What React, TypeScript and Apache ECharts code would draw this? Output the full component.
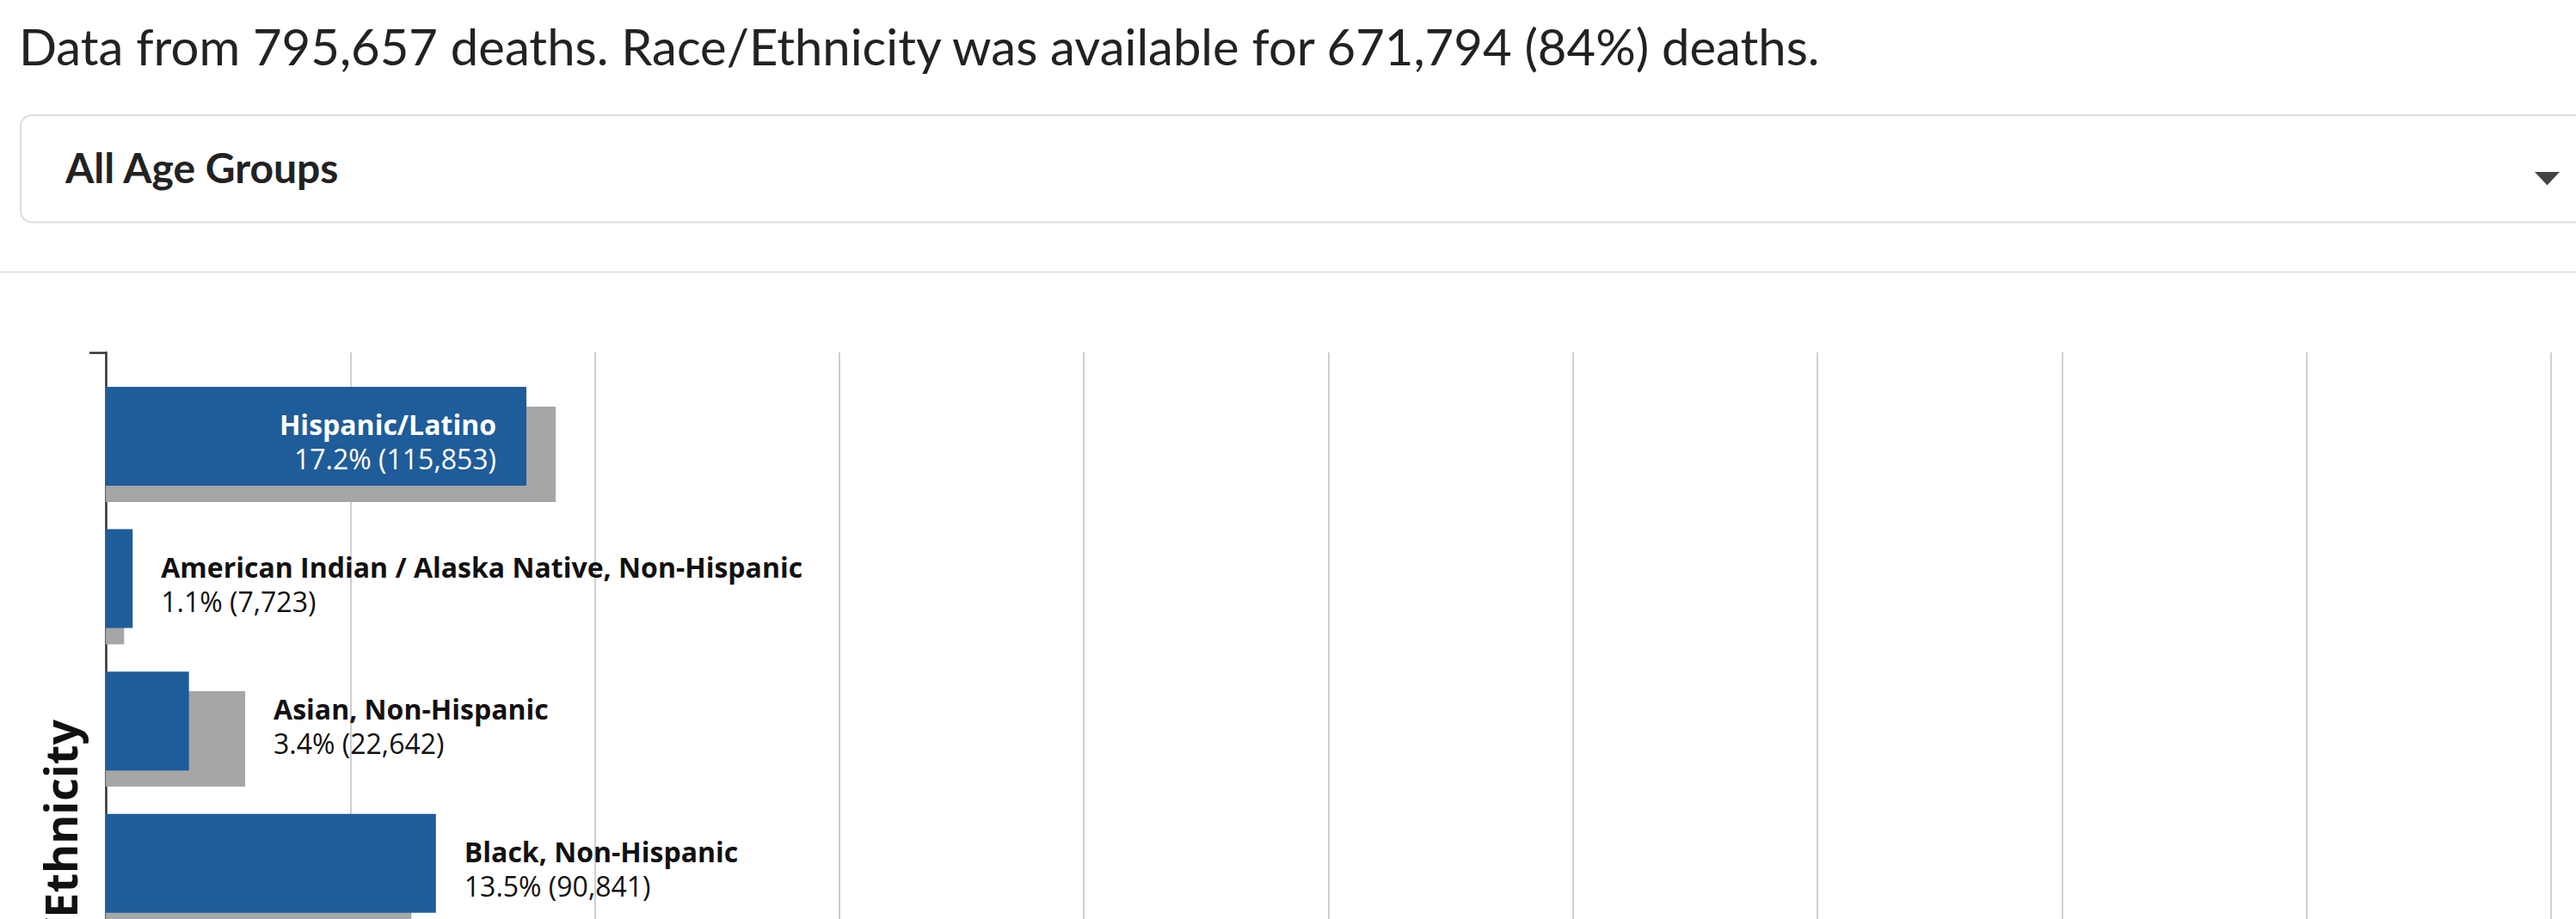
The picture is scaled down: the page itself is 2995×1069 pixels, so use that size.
import React, { useEffect, useRef } from 'react';
import * as echarts from 'echarts';

// ---- data ----
const categories = [
  'Hispanic/Latino',
  'American Indian / Alaska Native, Non-Hispanic',
  'Asian, Non-Hispanic',
  'Black, Non-Hispanic',
];
const deathPct = [17.2, 1.1, 3.4, 13.5];
const deathCount = [115853, 7723, 22642, 90841];
const populationPct = [18.4, 0.75, 5.7, 12.5];
const labelInside = [true, false, false, false];
const xMin = 0;
const xMax = 100;
const xInterval = 10;
const totalDeaths = 795657;
const availableDeaths = 671794;
const availablePct = 84;
const ageGroup = 'All Age Groups';
const axisTitle = 'Race/Ethnicity';

const BLUE = '#1f5c9a';
const GRAY = '#a6a6a6';

const fmt = (n: number) => n.toLocaleString('en-US');

export default function App() {
  const ref = useRef<HTMLDivElement>(null);

  useEffect(() => {
    if (!ref.current) return;
    const chart = echarts.init(ref.current, undefined, { renderer: 'svg' });

    const labelValues = deathPct.map((d, i) =>
      labelInside[i] ? d : Math.max(d, populationPct[i])
    );

    const richFor = (color: string) => ({
      b: { fontFamily: 'Open Sans', fontWeight: 'bold', fontSize: 32, lineHeight: 40, color },
      v: { fontFamily: 'Open Sans', fontWeight: 'normal', fontSize: 32, lineHeight: 40, color },
    });

    const option: any = {
      animation: false,
      grid: [
        { left: 123, right: 29, top: 410, height: 1230 },
        { left: 123, right: 29, top: 424.7, height: 662.4 },
        { left: 123, right: 29, top: 445.6, height: 662.4 },
      ],
      xAxis: [
        {
          gridIndex: 0, type: 'value', min: xMin, max: xMax, interval: xInterval,
          axisLabel: { show: false }, axisLine: { show: false }, axisTick: { show: false },
          splitLine: { show: true, lineStyle: { color: '#cfcfcf', width: 2 } },
        },
        { gridIndex: 1, type: 'value', min: xMin, max: xMax, show: false },
        { gridIndex: 2, type: 'value', min: xMin, max: xMax, show: false },
      ],
      yAxis: [
        {
          gridIndex: 0, type: 'value', min: 0, max: 1, interval: 1, inverse: true,
          axisLine: { show: true, lineStyle: { color: '#333', width: 2.5 } },
          axisTick: { show: true, length: 19, lineStyle: { color: '#333', width: 2.5 } },
          axisLabel: { show: false }, splitLine: { show: false },
        },
        { gridIndex: 1, type: 'category', data: categories, inverse: true, show: false },
        { gridIndex: 2, type: 'category', data: categories, inverse: true, show: false },
      ],
      series: [
        {
          name: 'Population', type: 'bar', xAxisIndex: 2, yAxisIndex: 2,
          data: populationPct, barWidth: 111, z: 2, silent: true,
          itemStyle: { color: GRAY },
        },
        {
          name: 'Deaths', type: 'bar', xAxisIndex: 1, yAxisIndex: 1,
          data: deathPct, barWidth: 115, z: 3, silent: true,
          itemStyle: { color: BLUE },
        },
        {
          name: 'Labels', type: 'bar', xAxisIndex: 1, yAxisIndex: 1,
          barWidth: 115, barGap: '-100%', z: 4, silent: true,
          itemStyle: { color: 'transparent' },
          label: {
            show: true,
            offset: [0, 6],
            formatter: (p: any) =>
              `{b|${categories[p.dataIndex]}}\n{v|${deathPct[p.dataIndex].toFixed(1)}% (${fmt(deathCount[p.dataIndex])})}`,
          },
          data: labelValues.map((v, i) => ({
            value: v,
            label: {
              position: labelInside[i] ? 'insideRight' : 'right',
              distance: labelInside[i] ? 35 : 33,
              rich: richFor(labelInside[i] ? '#ffffff' : '#111111'),
            },
          })),
        },
      ],
      graphic: [
        {
          type: 'text', x: 22, y: 53.5, silent: true,
          style: {
            text: `Data from ${fmt(totalDeaths)} deaths. Race/Ethnicity was available for ${fmt(availableDeaths)} (${availablePct}%) deaths.`,
            fontFamily: 'Lato', fontSize: 58, fontWeight: 'normal', fill: '#222',
            align: 'left', verticalAlign: 'middle',
          },
        },
        {
          type: 'rect', silent: true,
          shape: { x: 24, y: 134, width: 3000, height: 124.5, r: 13 },
          style: { fill: '#fff', stroke: '#dddddd', lineWidth: 2 },
        },
        {
          type: 'text', x: 76, y: 194, silent: true,
          style: {
            text: ageGroup, fontFamily: 'Lato', fontSize: 48, fontWeight: 'bold', fill: '#222',
            align: 'left', verticalAlign: 'middle',
          },
        },
        {
          type: 'polygon', silent: true,
          shape: { points: [[2947, 200], [2976, 200], [2961.5, 215.5]] },
          style: { fill: '#444' },
        },
        {
          type: 'line', silent: true,
          shape: { x1: 0, y1: 316.5, x2: 2995, y2: 316.5 },
          style: { stroke: '#e3e3e3', lineWidth: 2 },
        },
        {
          type: 'text', x: 69, y: 837, rotation: Math.PI / 2, silent: true,
          style: {
            text: axisTitle, fontFamily: 'Open Sans', fontSize: 52, fontWeight: 'bold', fill: '#111',
            align: 'right', verticalAlign: 'middle',
          },
        },
      ],
    };

    chart.setOption(option);
    return () => chart.dispose();
  }, []);

  return (
    <div
      ref={ref}
      style={{ position: 'fixed', left: 0, top: 0, width: 2995, height: 1800, background: '#fff' }}
    />
  );
}
